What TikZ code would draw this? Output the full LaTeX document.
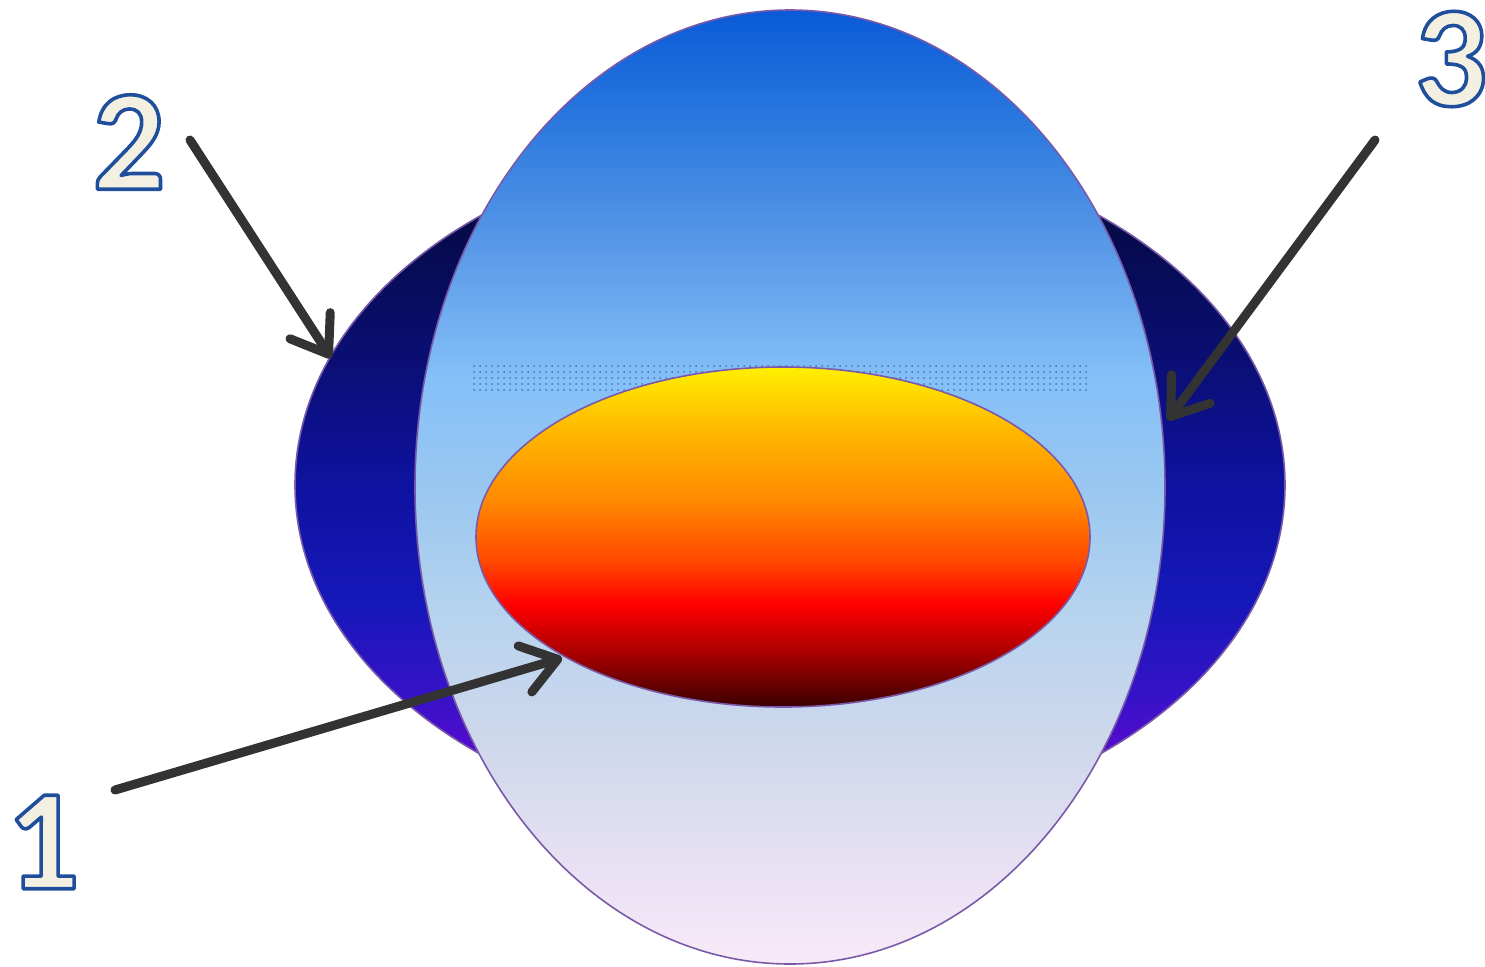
\documentclass[tikz,border=0pt]{standalone}
\usepackage{fontspec}
\setmainfont{Carlito}
\usetikzlibrary{arrows.meta,patterns}
\definecolor{arrowgray}{HTML}{333333}
\definecolor{edgepurple}{HTML}{7A5AA8}
\definecolor{cream}{HTML}{F3F0E2}
\definecolor{dotblue}{HTML}{4A76B8}
\newcommand{\outlined}[1]{\special{pdf:literal direct 2 Tr 1.8 w 0.12 0.31 0.61 RG 1 j}#1\special{pdf:literal direct 0 Tr}}
\pgfdeclareverticalshading{darkshade}{100bp}{%
  color(0bp)=(rgb,255:red,96;green,8;blue,208);
  color(29.3bp)=(rgb,255:red,96;green,8;blue,208);
  color(34.4bp)=(rgb,255:red,56;green,18;blue,200);
  color(41.7bp)=(rgb,255:red,21;green,24;blue,184);
  color(50bp)=(rgb,255:red,14;green,18;blue,160);
  color(59.8bp)=(rgb,255:red,10;green,14;blue,112);
  color(69.9bp)=(rgb,255:red,5;green,10;blue,69);
  color(75bp)=(rgb,255:red,3;green,5;blue,56);
  color(100bp)=(rgb,255:red,3;green,5;blue,56)}
\pgfdeclareverticalshading{bigshade}{100bp}{%
  color(0bp)=(rgb,255:red,248;green,234;blue,248);
  color(25bp)=(rgb,255:red,248;green,234;blue,248);
  color(29.4bp)=(rgb,255:red,234;green,226;blue,244);
  color(36.2bp)=(rgb,255:red,208;green,216;blue,236);
  color(43bp)=(rgb,255:red,184;green,212;blue,238);
  color(49.3bp)=(rgb,255:red,156;green,200;blue,240);
  color(55.6bp)=(rgb,255:red,133;green,192;blue,248);
  color(62.4bp)=(rgb,255:red,90;green,154;blue,232);
  color(69.2bp)=(rgb,255:red,42;green,120;blue,222);
  color(75bp)=(rgb,255:red,10;green,90;blue,216);
  color(100bp)=(rgb,255:red,10;green,90;blue,216)}
\pgfdeclareverticalshading{innershade}{100bp}{%
  color(0bp)=(rgb,255:red,58;green,0;blue,0);
  color(25bp)=(rgb,255:red,58;green,0;blue,0);
  color(33.5bp)=(rgb,255:red,176;green,0;blue,0);
  color(40.1bp)=(rgb,255:red,255;green,0;blue,0);
  color(46.7bp)=(rgb,255:red,255;green,74;blue,0);
  color(55.5bp)=(rgb,255:red,255;green,138;blue,0);
  color(65.8bp)=(rgb,255:red,255;green,184;blue,0);
  color(75bp)=(rgb,255:red,255;green,240;blue,0);
  color(100bp)=(rgb,255:red,255;green,240;blue,0)}
\tikzset{
  blob/.style={draw=edgepurple, line width=0.8pt},
  pointer/.style={draw=arrowgray, line width=4.5pt, line cap=round,
    -{Straight Barb[round, length=17pt, width=24pt]}},
  numlabel/.style={inner sep=0pt, font=\fontsize{72}{72}\selectfont\bfseries, text=cream}
}
\begin{document}
\begin{tikzpicture}[x=0.5pt,y=-0.5pt]
\useasboundingbox (0,0) rectangle (1485,966);
\path[blob, shading=darkshade] (790,485) ellipse [x radius=495, y radius=345];
\path[blob, shading=bigshade] (790,487) ellipse [x radius=375, y radius=477];
\fill[pattern=dots, pattern color=dotblue] (473,364) rectangle (1090,390);
\path[blob, shading=innershade] (783,537) ellipse [x radius=307, y radius=170];
\coordinate (s2) at (190,140);
\coordinate (t2) at (331,358);
\coordinate (s3) at (1375,140);
\coordinate (t3) at (1168,420);
\coordinate (s1) at (115,790);
\coordinate (t1) at (562,658);
\draw[pointer] (s2) -- (t2);
\draw[pointer] (s3) -- (t3);
\draw[pointer] (s1) -- (t1);
\node[numlabel] (n2) at (129,142) {\outlined{2}};
\node[numlabel] (n3) at (1451,59) {\outlined{3}};
\node[numlabel] (n1) at (43,842) {\outlined{1}};
\end{tikzpicture}
\end{document}
